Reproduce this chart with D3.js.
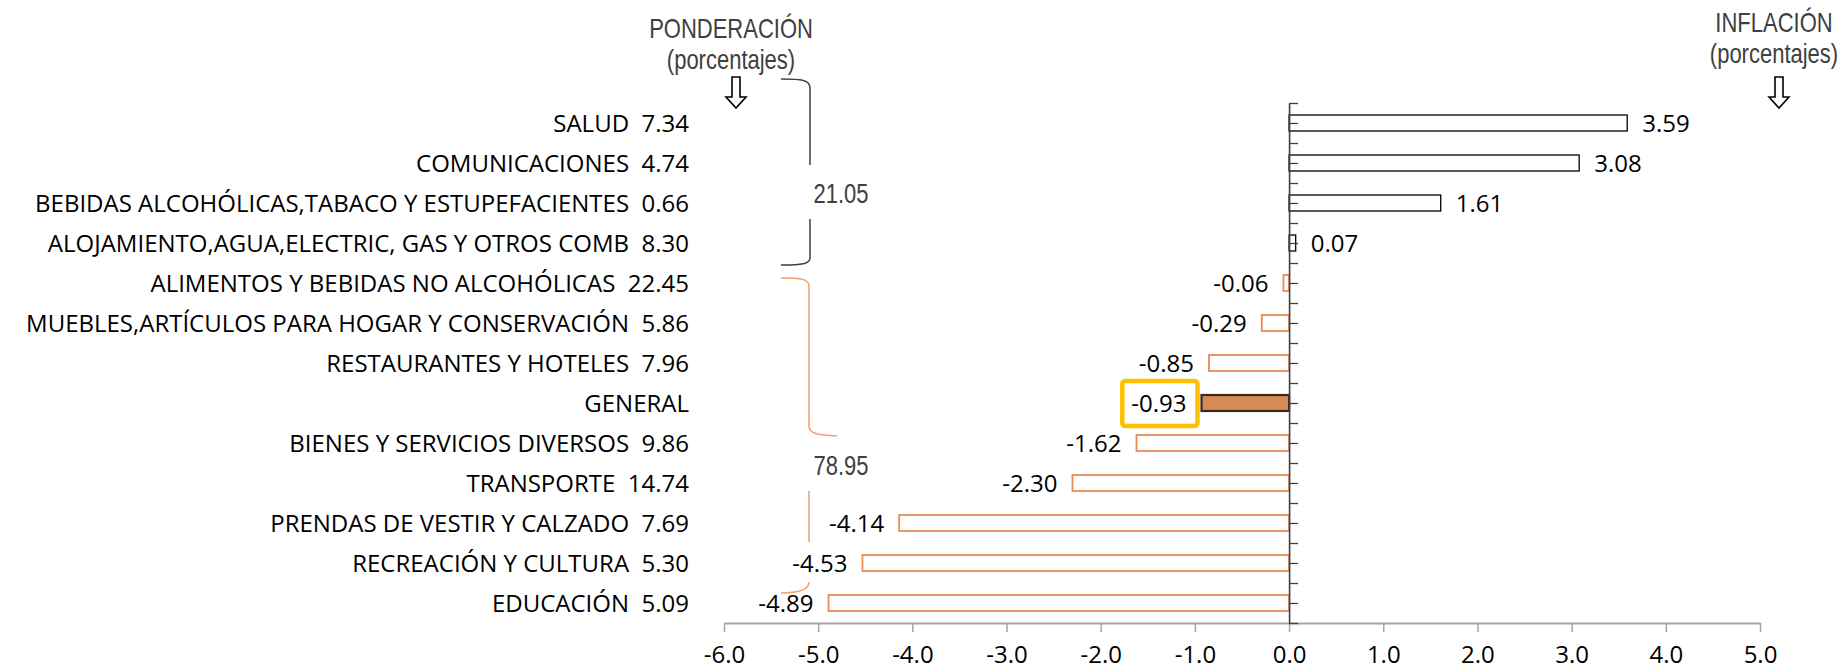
<!DOCTYPE html>
<html>
<head>
<meta charset="utf-8">
<script src="https://cdn.jsdelivr.net/npm/d3@7"></script>
<style>
  body { margin: 0; background: #fff; }
  text { white-space: pre; }
</style>
</head>
<body>
<svg id="chart"></svg>
<script>
const categories = ['SALUD', 'COMUNICACIONES', 'BEBIDAS ALCOHÓLICAS,TABACO Y ESTUPEFACIENTES',
  'ALOJAMIENTO,AGUA,ELECTRIC, GAS Y OTROS COMB', 'ALIMENTOS Y BEBIDAS NO ALCOHÓLICAS',
  'MUEBLES,ARTÍCULOS PARA HOGAR Y CONSERVACIÓN', 'RESTAURANTES Y HOTELES', 'GENERAL',
  'BIENES Y SERVICIOS DIVERSOS', 'TRANSPORTE', 'PRENDAS DE VESTIR Y CALZADO',
  'RECREACIÓN Y CULTURA', 'EDUCACIÓN'];
const weights = ['7.34', '4.74', '0.66', '8.30', '22.45', '5.86', '7.96', '', '9.86', '14.74', '7.69', '5.30', '5.09'];
const inflation = [3.59, 3.08, 1.61, 0.07, -0.06, -0.29, -0.85, -0.93, -1.62, -2.30, -4.14, -4.53, -4.89];
const xTicks = [-6, -5, -4, -3, -2, -1, 0, 1, 2, 3, 4, 5];
const groupTotals = ['21.05', '78.95'];

class InflationBarChart {
  constructor(_config, _data) {
    this.config = {
      parentElement: _config.parentElement,
      containerWidth: _config.containerWidth || 1848,
      containerHeight: _config.containerHeight || 669,
      plot: {left: 724, right: 1760, top: 103, bottom: 623}
    }
    this.data = _data;
    this.initVis();
  }

  initVis() {
    let vis = this;
    const p = vis.config.plot;

    vis.svg = d3.select(vis.config.parentElement)
      .attr('width', vis.config.containerWidth)
      .attr('height', vis.config.containerHeight);

    vis.xScale = d3.scaleLinear()
      .domain([-6, 5])
      .range([p.left, p.right]);

    vis.yScale = d3.scaleBand()
      .domain(vis.data.map(d => d.category))
      .range([p.top, p.bottom])
      .paddingInner(0.6)
      .paddingOuter(0.3);

    // half-band tick positions on the category axis
    vis.tickScale = d3.scaleLinear()
      .domain([0, vis.data.length * 2])
      .range([p.top, p.bottom]);

    vis.xAxis = d3.axisBottom(vis.xScale)
      .tickValues(xTicks)
      .tickSize(9)
      .tickSizeOuter(0)
      .tickPadding(14)
      .tickFormat(d => d.toFixed(1));

    vis.yAxis = d3.axisRight(vis.tickScale)
      .tickValues(d3.range(vis.data.length * 2 + 1))
      .tickSize(9)
      .tickSizeOuter(0)
      .tickFormat('');

    vis.colors = {pos: '#000000', neg: '#EB8C52', general: '#D68B55', generalStroke: '#3b2b1e', highlight: '#FFC000'};

    vis.renderVis();
  }

  // narrow sans text (Arial Narrow look), squeezed horizontally
  narrowText(x, y, lines, size) {
    let vis = this;
    const t = vis.svg.append('text')
      .attr('transform', `translate(${x},${y}) scale(0.8,1)`)
      .attr('text-anchor', 'middle')
      .attr('font-family', "'Liberation Sans', Arial, sans-serif")
      .attr('font-size', size)
      .attr('fill', '#404040');
    t.selectAll('tspan').data(lines).join('tspan')
      .attr('x', 0).attr('dy', (d, i) => i === 0 ? 0 : 31)
      .text(d => d);
    return t;
  }

  renderVis() {
    let vis = this;
    const bw = vis.yScale.bandwidth();
    const step = vis.yScale.step();
    const x0 = vis.xScale(0);
    const labelFont = "'Open Sans', sans-serif";

    // group brackets
    const bx = vis.xScale(-6) + 86;
    const top0 = vis.yScale(categories[0]) - step * 0.3;
    const blackTop = top0 - 24, blackBot = top0 + step * 4 + 2;
    const orangeTop = blackBot + 13, orangeBot = vis.config.plot.bottom - 30;

    vis.svg.append('path')
      .attr('fill', 'none').attr('stroke', '#404040').attr('stroke-width', 1.5)
      .attr('d', `M${bx - 29},${blackTop} C${bx - 8},${blackTop} ${bx},${blackTop + 1} ${bx},${blackTop + 9} L${bx},${blackTop + 86}
                  M${bx},${blackBot - 46} L${bx},${blackBot - 7} C${bx},${blackBot - 1} ${bx - 8},${blackBot} ${bx - 29},${blackBot}`);

    vis.svg.append('path')
      .attr('fill', 'none').attr('stroke', '#F0A06A').attr('stroke-width', 1.5)
      .attr('d', `M${bx - 29},${orangeTop} C${bx - 9},${orangeTop} ${bx - 1},${orangeTop + 1} ${bx - 1},${orangeTop + 8} L${bx - 1},${orangeTop + 148} C${bx - 1},${orangeTop + 155} ${bx + 6},${orangeTop + 157} ${bx + 27},${orangeTop + 158}
                  M${bx - 1},${orangeTop + 213} L${bx - 1},${orangeTop + 264}
                  M${bx - 1},${orangeBot - 11} C${bx - 1},${orangeBot - 4} ${bx - 9},${orangeBot} ${bx - 29},${orangeBot}`);

    groupTotals.forEach((g, i) => {
      vis.narrowText(bx + 31, i === 0 ? blackTop + 124 : orangeTop + 197, [g], 27.5);
    });

    // headers
    const headers = [
      {lines: ['PONDERACIÓN', '(porcentajes)'], x: 731, y: 38, arrowX: 736},
      {lines: ['INFLACIÓN', '(porcentajes)'], x: 1774, y: 32, arrowX: 1779}
    ];
    headers.forEach(h => {
      vis.narrowText(h.x, h.y, h.lines, 27.5);
      const a = h.arrowX, t = 77;
      vis.svg.append('path')
        .attr('fill', '#fff').attr('stroke', '#000').attr('stroke-width', 1.6)
        .attr('d', `M${a - 4},${t} L${a + 4},${t} L${a + 4},${t + 20} L${a + 10},${t + 20} L${a},${t + 31} L${a - 10},${t + 20} L${a - 4},${t + 20} Z`);
    });

    // bars
    vis.svg.selectAll('.bar')
      .data(vis.data)
      .join('rect')
      .attr('class', 'bar')
      .attr('x', d => vis.xScale(Math.min(0, d.value)))
      .attr('y', d => vis.yScale(d.category))
      .attr('width', d => Math.abs(vis.xScale(d.value) - x0))
      .attr('height', bw)
      .attr('fill', d => d.category === 'GENERAL' ? vis.colors.general : '#fff')
      .attr('stroke', d => d.category === 'GENERAL' ? vis.colors.generalStroke : (d.value >= 0 ? vis.colors.pos : vis.colors.neg))
      .attr('stroke-width', d => d.category === 'GENERAL' ? 2.2 : (d.value >= 0 ? 1.3 : 1.8));

    // axes
    vis.xAxisG = vis.svg.append('g')
      .attr('class', 'axis x-axis')
      .attr('transform', `translate(0,${vis.config.plot.bottom})`)
      .call(vis.xAxis);
    vis.xAxisG.select('.domain').attr('stroke', '#A6A6A6').attr('stroke-width', 2);
    vis.xAxisG.selectAll('.tick line').attr('stroke', '#A6A6A6').attr('stroke-width', 1.5);
    vis.xAxisG.selectAll('.tick text')
      .attr('font-family', labelFont).attr('font-size', 24).attr('fill', '#000');

    vis.yAxisG = vis.svg.append('g')
      .attr('class', 'axis y-axis')
      .attr('transform', `translate(${x0},0)`)
      .call(vis.yAxis);
    vis.yAxisG.select('.domain').attr('stroke', '#404040').attr('stroke-width', 1.6);
    vis.yAxisG.selectAll('.tick line').attr('stroke', '#404040').attr('stroke-width', 1.3);

    // category labels with weights
    vis.svg.selectAll('.cat-label')
      .data(vis.data)
      .join('text')
      .attr('class', 'cat-label')
      .attr('x', vis.xScale(-6) - 35)
      .attr('y', d => vis.yScale(d.category) + bw / 2)
      .attr('dy', '0.36em')
      .attr('text-anchor', 'end')
      .attr('font-family', labelFont).attr('font-size', 24).attr('fill', '#000')
      .text(d => d.weight ? `${d.category}  ${d.weight}` : d.category);

    // value labels
    vis.valueLabels = vis.svg.selectAll('.val-label')
      .data(vis.data)
      .join('text')
      .attr('class', 'val-label')
      .attr('x', d => d.value >= 0 ? vis.xScale(d.value) + 15 : vis.xScale(d.value) - 15)
      .attr('y', d => vis.yScale(d.category) + bw / 2)
      .attr('dy', '0.36em')
      .attr('text-anchor', d => d.value >= 0 ? 'start' : 'end')
      .attr('font-family', labelFont).attr('font-size', 24).attr('fill', '#000')
      .text(d => d.value.toFixed(2));

    // highlight box round the general value
    const gen = vis.valueLabels.filter(d => d.category === 'GENERAL').node().getBBox();
    const gy = vis.yScale('GENERAL') + bw / 2;
    vis.svg.append('rect')
      .attr('x', gen.x - 9).attr('y', gy - 22)
      .attr('width', gen.width + 20).attr('height', 45)
      .attr('rx', 3)
      .attr('fill', 'none')
      .attr('stroke', vis.colors.highlight).attr('stroke-width', 4.5);
  }
}

const data = categories.map((c, i) => ({category: c, weight: weights[i], value: inflation[i]}));
new InflationBarChart({parentElement: '#chart'}, data);
</script>
</body>
</html>
